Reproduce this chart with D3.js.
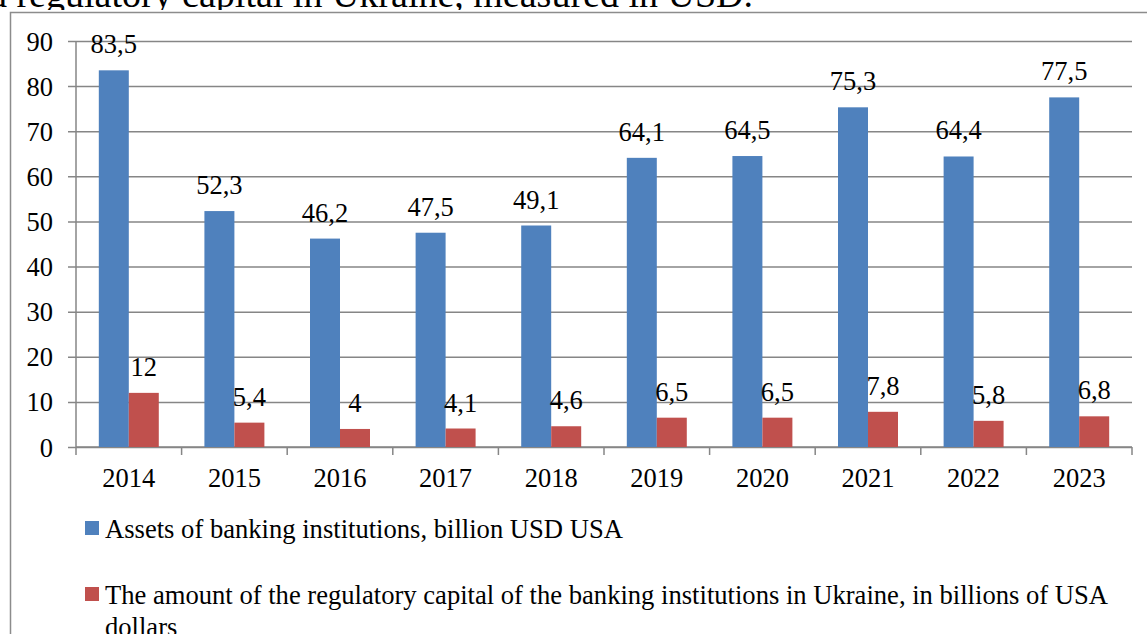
<!DOCTYPE html>
<html>
<head>
<meta charset="utf-8">
<script src="https://cdn.jsdelivr.net/npm/d3@7"></script>
<style>
  html, body { margin: 0; padding: 0; background: #fff; }
  svg { display: block; }
  text { font-family: "Liberation Serif", "Times New Roman", serif; fill: #000; }
</style>
</head>
<body>
<svg id="chart" width="1147" height="634"></svg>
<script>
const years = ["2014","2015","2016","2017","2018","2019","2020","2021","2022","2023"];
const assets = [83.5, 52.3, 46.2, 47.5, 49.1, 64.1, 64.5, 75.3, 64.4, 77.5];
const capital = [12, 5.4, 4, 4.1, 4.6, 6.5, 6.5, 7.8, 5.8, 6.8];
const seriesNames = [
  "Assets of banking institutions, billion USD USA",
  "The amount of the regulatory capital of the banking institutions in Ukraine, in billions of USA dollars"
];
const seriesColors = ["#4F81BD", "#C0504D"];
const yTicks = [0, 10, 20, 30, 40, 50, 60, 70, 80, 90];
const titleText = "Dynamics of assets and regulatory capital in Ukraine, measured in USD.";

const svg = d3.select("#chart");
const W = 1147, H = 634;
const plot = { left: 76, right: 1132, top: 41, bottom: 447 };
const gridColor = "#868686";
const fs = 26.5;
const serif = "'Liberation Serif', 'Times New Roman', serif";

svg.append("rect").attr("width", W).attr("height", H).attr("fill", "#fff");

// title (document line above the chart, partially hidden)
svg.append("text")
  .attr("x", 753).attr("y", 7)
  .attr("text-anchor", "end")
  .style("font-size", "38px")
  .text(titleText);

// chart picture background covers the title's descenders
svg.append("rect").attr("x", 0).attr("y", 10).attr("width", W).attr("height", H).attr("fill", "#fff");

// chart border
svg.append("rect")
  .attr("x", 10.5).attr("y", 12.5)
  .attr("width", W + 20).attr("height", H + 20)
  .attr("fill", "none").attr("stroke", "#8c8c8c").attr("stroke-width", 1.5);

const y = d3.scaleLinear().domain([0, 90]).range([plot.bottom, plot.top]);
const x0 = d3.scaleBand().domain(years).range([plot.left, plot.right])
  .paddingInner(0.432).paddingOuter(0.216);
const x1 = d3.scaleBand().domain([0, 1]).range([0, x0.bandwidth()]);

// gridlines + y ticks
const yAxis = d3.axisLeft(y).tickValues(yTicks).tickSize(plot.right - plot.left + 8).tickFormat(d => d);
const gy = svg.append("g").attr("transform", `translate(${plot.right},0)`).call(yAxis)
  .attr("font-family", serif).attr("font-size", fs);
gy.select(".domain").remove();
gy.selectAll(".tick line").attr("stroke", gridColor).attr("stroke-width", 1.5);
gy.selectAll(".tick text")
  .attr("x", -(plot.right - plot.left) - 23)
  .attr("dy", "0.34em")
  .style("font-size", fs + "px")
  .style("font-family", serif)
  .attr("fill", "#000");

// y axis line
svg.append("line")
  .attr("x1", plot.left).attr("x2", plot.left)
  .attr("y1", plot.top).attr("y2", plot.bottom)
  .attr("stroke", gridColor).attr("stroke-width", 1.5);

// x axis ticks at category boundaries
const step = x0.step();
const boundaries = d3.range(years.length + 1).map(i => plot.left + i * step);
svg.append("g").selectAll("line").data(boundaries).join("line")
  .attr("x1", d => d).attr("x2", d => d)
  .attr("y1", plot.bottom).attr("y2", plot.bottom + 8)
  .attr("stroke", gridColor).attr("stroke-width", 1.5);
svg.append("line")
  .attr("x1", plot.left).attr("x2", plot.right)
  .attr("y1", plot.bottom).attr("y2", plot.bottom)
  .attr("stroke", gridColor).attr("stroke-width", 1.5);

// x labels
svg.append("g").selectAll("text").data(years).join("text")
  .attr("x", d => x0(d) + x0.bandwidth() / 2)
  .attr("y", 487)
  .attr("text-anchor", "middle")
  .style("font-size", fs + "px")
  .text(d => d);

// bars
const series = [assets, capital];
series.forEach((vals, si) => {
  const g = svg.append("g");
  g.selectAll("rect").data(vals).join("rect")
    .attr("x", (d, i) => x0(years[i]) + x1(si))
    .attr("y", d => y(d))
    .attr("width", x1.bandwidth())
    .attr("height", d => y(0) - y(d))
    .attr("fill", seriesColors[si]);
  g.selectAll("text").data(vals).join("text")
    .attr("x", (d, i) => x0(years[i]) + x1(si) + x1.bandwidth() / 2)
    .attr("y", d => y(d) - 17)
    .attr("text-anchor", "middle")
    .style("font-size", fs + "px")
    .text(d => String(d).replace(".", ","));
});

// legend
const legendY = [521, 587];
seriesNames.forEach((name, i) => {
  svg.append("rect")
    .attr("x", 85).attr("y", legendY[i])
    .attr("width", 14).attr("height", 14)
    .attr("fill", seriesColors[i]);
  const t = svg.append("text")
    .attr("x", 105).attr("y", legendY[i] + 17)
    .style("font-size", "26.6px");
  const words = name.split(" ");
  let line = [];
  let ts = t.append("tspan").attr("x", 105);
  const maxW = 1035;
  words.forEach(w => {
    line.push(w);
    ts.text(line.join(" "));
    if (ts.node().getComputedTextLength() > maxW && line.length > 1) {
      line.pop();
      ts.text(line.join(" "));
      line = [w];
      ts = t.append("tspan").attr("x", 105).attr("dy", 32).text(w);
    }
  });
});
</script>
</body>
</html>
